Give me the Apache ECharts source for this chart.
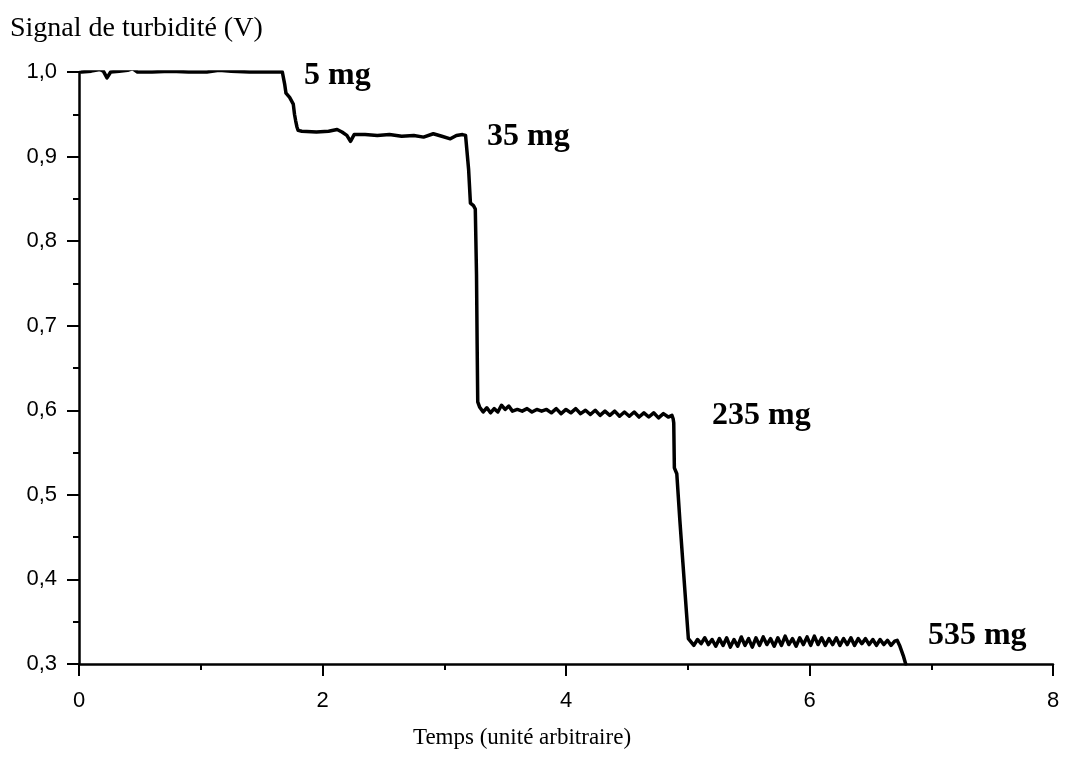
<!DOCTYPE html>
<html>
<head>
<meta charset="utf-8">
<script src="https://cdn.jsdelivr.net/npm/echarts@6/dist/echarts.min.js"></script>
<style>
html,body{margin:0;padding:0;background:#fff;}
#chart{width:1065px;height:764px;}
</style>
</head>
<body>
<div id="chart"></div>
<script>
// Time (arbitrary unit) and turbidity signal (V)
const timeValues = [
  0.02,0.10,0.17,0.20,0.23,0.26,0.33,0.40,0.44,0.48,0.60,0.75,0.90,1.05,1.15,1.25,1.40,1.55,1.67,
  1.68,1.69,1.70,1.73,1.76,1.77,1.78,1.79,1.80,
  1.83,1.95,2.05,2.12,2.16,2.20,2.23,2.26,2.35,2.45,2.55,2.65,2.75,2.83,2.91,2.98,3.05,3.10,3.15,
  3.175,3.20,3.215,3.24,3.255,3.265,3.27,3.275,
  3.29,3.32,3.35,3.38,3.41,3.44,3.47,3.50,3.53,3.56,3.60,3.64,3.68,3.72,3.76,3.80,3.84,3.88,3.92,3.96,
  4.00,4.04,4.08,4.12,4.16,4.20,4.24,4.28,4.32,4.36,4.40,4.44,4.48,4.52,4.56,4.60,4.64,4.68,4.72,4.76,
  4.80,4.84,4.87,4.88,
  4.885,4.89,4.91,4.935,4.96,4.99,5.005,
  5.02,5.05,5.08,5.11,5.14,5.17,5.20,5.23,5.26,5.29,5.32,5.35,5.38,5.41,5.44,5.47,5.50,5.53,5.56,5.59,
  5.62,5.65,5.68,5.71,5.74,5.77,5.80,5.83,5.86,5.89,5.92,5.95,5.98,6.01,6.04,6.07,6.10,6.13,6.16,6.19,
  6.22,6.25,6.28,6.31,6.34,6.37,6.40,6.43,6.46,6.49,6.52,6.55,6.58,6.61,6.64,6.67,6.70,6.72,6.74,
  6.77,6.79
];
const signalValues = [
  1.000,1.001,1.003,1.001,0.993,1.000,1.001,1.002,1.004,1.000,1.000,1.001,1.000,1.000,1.002,1.001,1.000,1.000,1.000,
  0.998,0.985,0.975,0.970,0.962,0.950,0.942,0.935,0.931,
  0.930,0.929,0.930,0.932,0.929,0.925,0.918,0.926,0.926,0.925,0.926,0.924,0.925,0.923,0.927,0.924,0.921,0.925,0.926,
  0.925,0.885,0.845,0.842,0.838,0.760,0.680,0.610,
  0.604,0.598,0.603,0.597,0.602,0.598,0.606,0.601,0.605,0.599,0.601,0.599,0.602,0.598,0.601,0.599,0.601,0.597,0.602,0.596,
  0.601,0.597,0.602,0.596,0.600,0.595,0.600,0.594,0.599,0.594,0.599,0.593,0.598,0.593,0.598,0.592,0.597,0.592,0.597,0.591,
  0.596,0.592,0.594,0.590,
  0.585,0.532,0.525,0.470,0.420,0.360,0.330,
  0.330,0.322,0.329,0.324,0.331,0.323,0.329,0.321,0.330,0.322,0.331,0.320,0.329,0.321,0.332,0.322,0.330,0.320,0.331,0.322,
  0.332,0.323,0.330,0.321,0.331,0.322,0.333,0.323,0.330,0.321,0.331,0.323,0.332,0.322,0.333,0.323,0.331,0.322,0.330,0.323,
  0.331,0.322,0.330,0.323,0.331,0.322,0.330,0.324,0.330,0.323,0.329,0.322,0.329,0.323,0.328,0.322,0.327,0.328,0.322,
  0.310,0.300
];

// Mass annotations
const annotationTexts = ['5 mg','35 mg','235 mg','535 mg'];
const annotationX = [1.848, 3.351, 5.199, 6.973];
const annotationY = [0.996, 0.923, 0.594, 0.334];

// Axis tick labels
const yTickValues = [0.3,0.4,0.5,0.6,0.7,0.8,0.9,1.0];
const yTickLabels = ['0,3','0,4','0,5','0,6','0,7','0,8','0,9','1,0'];
const xTickValues = [0,2,4,6,8];
const xTickLabels = ['0','2','4','6','8'];

const titleText = 'Signal de turbidité (V)';
const xAxisName = 'Temps (unité arbitraire)';

const signalData = timeValues.map((t,i)=>[t, signalValues[i]]);
const annotationData = annotationTexts.map((s,i)=>({value:[annotationX[i], annotationY[i]], name:s}));

function lookup(vals, labels, v){
  for (let i=0;i<vals.length;i++){ if (Math.abs(vals[i]-v)<1e-6) return labels[i]; }
  return '';
}

const chart = echarts.init(document.getElementById('chart'), null, {renderer:'canvas'});
chart.setOption({
  backgroundColor:'#ffffff',
  animation:false,
  title:{
    text:titleText, left:10, top:15, padding:0,
    textStyle:{fontFamily:'Liberation Serif', fontSize:28, fontWeight:'normal', color:'#000'}
  },
  grid:{left:79, right:12, top:72, bottom:100, containLabel:false},
  xAxis:{
    type:'value', min:0, max:8, interval:2,
    name:xAxisName, nameLocation:'middle', nameGap:62,
    nameTextStyle:{fontFamily:'Liberation Serif', fontSize:23, color:'#000', padding:[0,88,0,0]},
    axisLine:{show:true, onZero:false, lineStyle:{color:'#000', width:2.5}},
    axisTick:{show:true, inside:false, length:12, lineStyle:{color:'#000', width:2}},
    minorTick:{show:true, splitNumber:2, length:6, lineStyle:{color:'#000', width:2}},
    splitLine:{show:false},
    axisLabel:{margin:26, fontFamily:'Liberation Sans', fontSize:22, color:'#000',
      formatter:(v)=>lookup(xTickValues, xTickLabels, v)}
  },
  yAxis:{
    type:'value', min:0.3, max:1.0, interval:0.1,
    axisLine:{show:true, onZero:false, lineStyle:{color:'#000', width:2.5}},
    axisTick:{show:true, inside:false, length:12, lineStyle:{color:'#000', width:2}},
    minorTick:{show:true, splitNumber:2, length:6, lineStyle:{color:'#000', width:2}},
    splitLine:{show:false},
    axisLabel:{margin:22, fontFamily:'Liberation Sans', fontSize:22, color:'#000',
      formatter:(v)=>lookup(yTickValues, yTickLabels, v)}
  },
  series:[
    {
      type:'line', data:signalData, showSymbol:false, symbol:'none', smooth:false,
      lineStyle:{color:'#000', width:3.5, join:'round', cap:'round'},
      z:3
    },
    {
      type:'scatter', data:annotationData, symbolSize:0,
      itemStyle:{opacity:1, color:'#000'},
      label:{show:true, position:'right', distance:0, formatter:(p)=>p.name,
        fontFamily:'Liberation Serif', fontWeight:'bold', fontSize:32, color:'#000', opacity:1, verticalAlign:'middle'},
      z:4
    }
  ]
});
</script>
</body>
</html>
